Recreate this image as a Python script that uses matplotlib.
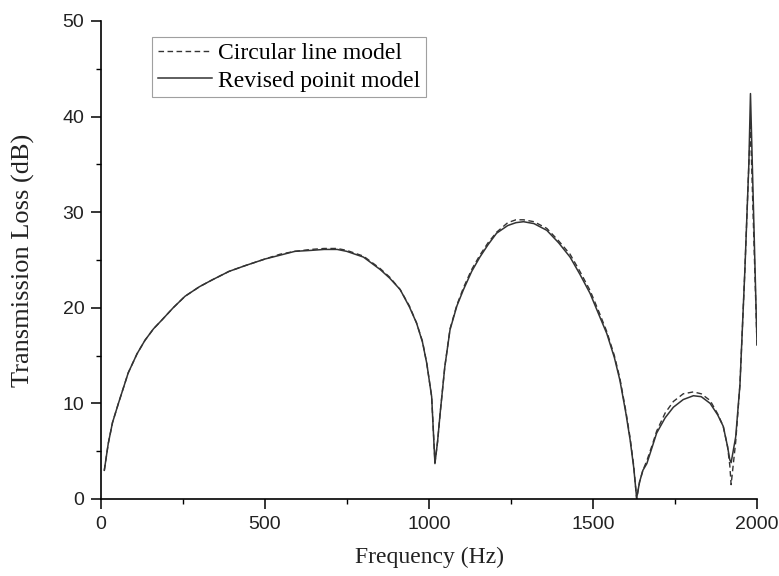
import numpy as np
import matplotlib.pyplot as plt
from matplotlib.ticker import MultipleLocator

# frequency (Hz) and transmission loss (dB)
freq = [10, 22, 35, 53, 83, 110, 134, 160, 185, 220, 256, 300, 338, 390, 439,
        500, 546, 591, 640, 680, 720, 749, 800, 851, 880, 912, 940, 962, 980,
        993, 1008, 1018, 1026, 1034, 1048, 1064, 1085, 1105, 1130, 1155, 1180,
        1206, 1240, 1265, 1288, 1320, 1359, 1395, 1430, 1460, 1491, 1520, 1542,
        1565, 1582, 1600, 1613, 1624, 1633, 1642, 1652, 1664, 1680, 1694, 1720,
        1745, 1775, 1806, 1830, 1857, 1880, 1897, 1910, 1917, 1921, 1935, 1948,
        1963, 1975, 1980, 2000]

circular = [3.0, 5.8, 8.0, 10.0, 13.2, 15.2, 16.6, 17.8, 18.7, 20.0, 21.2, 22.2,
            22.9, 23.8, 24.4, 25.1, 25.6, 25.9, 26.1, 26.2, 26.2, 26.0, 25.4,
            24.1, 23.2, 21.9, 20.2, 18.4, 16.5, 14.2, 10.7, 3.8, 6.0, 9.0, 13.8,
            17.8, 20.3, 22.1, 24.0, 25.5, 26.8, 27.9, 28.9, 29.2, 29.2, 29.0,
            28.3, 27.0, 25.6, 23.8, 21.8, 19.4, 17.5, 15.0, 12.6, 9.2, 6.4, 3.5,
            0.0, 1.8, 3.0, 4.0, 5.6, 7.1, 9.0, 10.2, 11.0, 11.2, 11.0, 10.3, 8.9,
            7.6, 5.5, 3.5, 1.5, 6.0, 12.0, 24.0, 35.0, 39.0, 16.1]

revised = [3.0, 5.8, 8.0, 10.0, 13.2, 15.2, 16.6, 17.8, 18.7, 20.0, 21.2, 22.2,
           22.9, 23.8, 24.4, 25.1, 25.5, 25.9, 26.0, 26.1, 26.1, 25.9, 25.3,
           24.0, 23.1, 21.9, 20.1, 18.4, 16.4, 14.2, 10.7, 3.7, 6.0, 9.0, 13.8,
           17.7, 20.2, 21.9, 23.8, 25.3, 26.6, 27.8, 28.6, 28.9, 29.0, 28.8,
           28.1, 26.8, 25.3, 23.5, 21.5, 19.1, 17.3, 14.8, 12.4, 9.0, 6.2, 3.3,
           0.1, 1.8, 3.0, 3.7, 5.4, 6.9, 8.5, 9.6, 10.4, 10.8, 10.7, 10.0, 8.8,
           7.6, 5.5, 4.1, 3.8, 6.5, 12.0, 24.0, 35.0, 42.4, 16.1]

fig = plt.figure(figsize=(7.79, 5.76), dpi=100)
ax = fig.add_axes([0.1297, 0.1337, 0.8421, 0.83])

line_color = '#333333'
ax.plot(freq, circular, color=line_color, lw=1.0, ls=(0, (4, 2.5)), label='Circular line model')
ax.plot(freq, revised, color=line_color, lw=1.1, label='Revised poinit model')

ax.set_xlim(0, 2000)
ax.set_ylim(0, 50)
ax.spines['top'].set_visible(False)
ax.spines['right'].set_visible(False)
for s in ('left', 'bottom'):
    ax.spines[s].set_linewidth(1.2)
ax.xaxis.set_major_locator(MultipleLocator(500))
ax.xaxis.set_minor_locator(MultipleLocator(250))
ax.yaxis.set_major_locator(MultipleLocator(10))
ax.yaxis.set_minor_locator(MultipleLocator(5))
ax.tick_params(which='major', direction='out', length=7, width=1.1, labelsize=14, pad=5)
ax.tick_params(which='minor', direction='out', length=3.6, width=1.0)
for lab in ax.get_xticklabels() + ax.get_yticklabels():
    lab.set_fontfamily('Liberation Sans')
    lab.set_color('#222222')

ax.set_xlabel('Frequency (Hz)', fontfamily='Liberation Serif', fontsize=17, labelpad=10, color='#222222')
ax.set_ylabel('Transmission Loss (dB)', fontfamily='Liberation Serif', fontsize=19, labelpad=20, color='#222222')

leg = ax.legend(loc='upper left', bbox_to_anchor=(0.078, 0.967), prop={'family': 'Liberation Serif', 'size': 17},
                frameon=True, fancybox=False, handlelength=2.3, handletextpad=0.25,
                borderpad=0.25, labelspacing=0.25, borderaxespad=0)
leg.get_frame().set_edgecolor('#888888')
leg.get_frame().set_linewidth(0.8)

fig.savefig('out.png', dpi=100)
